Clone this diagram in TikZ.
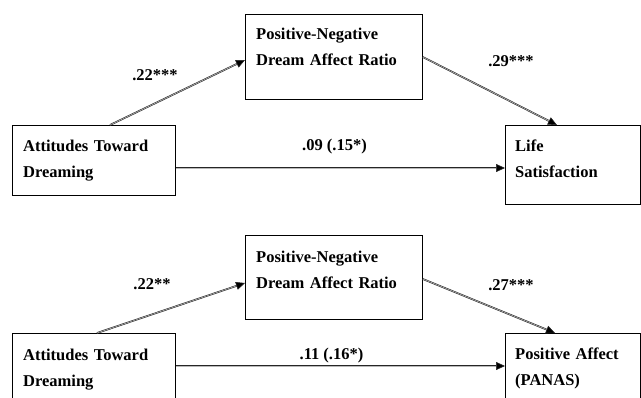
\documentclass[tikz,border=0pt]{standalone}
\usepackage{fontspec}
\setmainfont{Liberation Serif}
\usetikzlibrary{arrows.meta,calc}
\begin{document}
\begin{tikzpicture}[x=1pt,y=-1pt,
  box/.style={draw=black, line width=0.8pt, inner sep=0pt, anchor=north west},
  txt/.style={inner sep=0pt, anchor=base west, text width=160pt, align=left,
    font=\fontsize{16.5}{26}\selectfont\bfseries},
  coef/.style={inner sep=0pt, anchor=base, font=\fontsize{16.5}{20}\selectfont\bfseries},
  conn/.style={draw=black!85, line width=0.55pt, double=gray!55, double distance=0.6pt,
    -{Triangle[length=9pt,width=8pt,fill=black,sep=0pt]}}]
\useasboundingbox (0,0) rectangle (641,398);
\clip (0,0) rectangle (641,398);
% ---------- top model ----------
\node[box, minimum width=163pt, minimum height=70pt] (tatt) at (12,125) {};
\node[box, minimum width=177pt, minimum height=85pt] (trat) at (245,14) {};
\node[box, minimum width=135pt, minimum height=79pt] (tlif) at (505,125) {};
\node[txt] (tattx) at (23,152) {Attitudes Toward\\Dreaming};
\node[txt] (tratx) at (256,40) {Positive-Negative\\Dream Affect Ratio};
\node[txt] (tlifx) at (515,152) {Life\\Satisfaction};
\coordinate (ta1) at ($(tatt.north west)+(98,0)$);
\coordinate (ta2) at ($(trat.north west)+(0,46)$);
\coordinate (tb1) at ($(trat.north east)+(0,43)$);
\coordinate (tb2) at ($(tlif.north west)+(52,0)$);
\coordinate (tc1) at ($(tatt.north east)+(0,43)$);
\coordinate (tc2) at ($(tlif.north west)+(0,43)$);
\draw[conn] (ta1) -- (ta2);
\draw[conn] (tb1) -- (tb2);
\draw[conn] (tc1) -- (tc2);
\node[coef] (tla) at (155,81) {.22***};
\node[coef] (tlb) at (511,67) {.29***};
\node[coef] (tlc) at (334.5,151) {.09 (.15*)};
% ---------- bottom model ----------
\node[box, minimum width=163pt, minimum height=80pt] (batt) at (12,333) {};
\node[box, minimum width=177pt, minimum height=84pt] (brat) at (245,235) {};
\node[box, minimum width=135pt, minimum height=80pt] (bpa) at (505,333) {};
\node[txt] (battx) at (23,361) {Attitudes Toward\\Dreaming};
\node[txt] (bratx) at (256,263) {Positive-Negative\\Dream Affect Ratio};
\node[txt] (bpax) at (515,360) {Positive Affect\\(PANAS)};
\coordinate (ba1) at ($(batt.north west)+(85,0)$);
\coordinate (ba2) at ($(brat.north west)+(0,48)$);
\coordinate (bb1) at ($(brat.north east)+(0,44)$);
\coordinate (bb2) at ($(bpa.north west)+(50,0)$);
\coordinate (bc1) at ($(batt.north east)+(0,33)$);
\coordinate (bc2) at ($(bpa.north west)+(0,33)$);
\draw[conn] (ba1) -- (ba2);
\draw[conn] (bb1) -- (bb2);
\draw[conn] (bc1) -- (bc2);
\node[coef] (bla) at (152,290) {.22**};
\node[coef] (blb) at (511,291) {.27***};
\node[coef] (blc) at (331.5,360) {.11 (.16*)};
\end{tikzpicture}
\end{document}
